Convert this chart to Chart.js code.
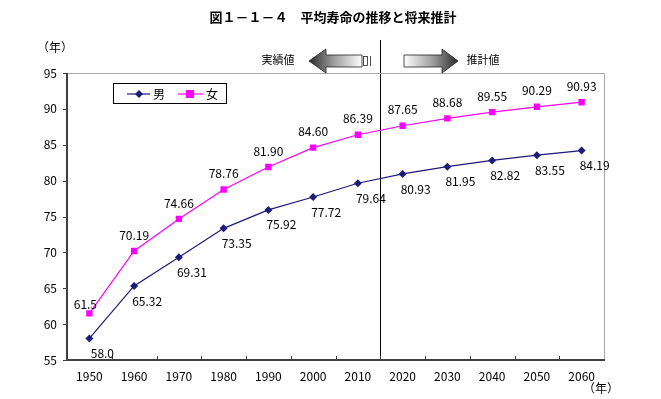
<!DOCTYPE html>
<html lang="ja">
<head>
<meta charset="utf-8">
<script src="https://cdn.jsdelivr.net/npm/chart.js@4/dist/chart.umd.min.js"></script>
<style>
  html, body { margin: 0; padding: 0; background: #fff; }
  #chart { display: block; }
</style>
</head>
<body>
<canvas id="chart" width="661" height="399"></canvas>
<script>
// data
const years = ['1950', '1960', '1970', '1980', '1990', '2000', '2010', '2020', '2030', '2040', '2050', '2060'];
const maleLabel = '男';
const femaleLabel = '女';
const maleLife = [58.0, 65.32, 69.31, 73.35, 75.92, 77.72, 79.64, 80.93, 81.95, 82.82, 83.55, 84.19];
const femaleLife = [61.5, 70.19, 74.66, 78.76, 81.90, 84.60, 86.39, 87.65, 88.68, 89.55, 90.29, 90.93];
const maleText = ['58.0', '65.32', '69.31', '73.35', '75.92', '77.72', '79.64', '80.93', '81.95', '82.82', '83.55', '84.19'];
const femaleText = ['61.5', '70.19', '74.66', '78.76', '81.90', '84.60', '86.39', '87.65', '88.68', '89.55', '90.29', '90.93'];
const yTicks = [55, 60, 65, 70, 75, 80, 85, 90, 95];
const lastActualIndex = 6; // 2010

const FONT = '"Noto Sans CJK JP", "Noto Sans", sans-serif';
const MALE_COLOR = '#1e1a78';
const FEMALE_COLOR = '#ff00ff';

function drawArrow(ctx, tail, tip, yc, bodyH, headH, headLen) {
    const dir = tip > tail ? 1 : -1;
    const base = tip - dir * headLen;
    ctx.beginPath();
    ctx.moveTo(tail, yc - bodyH);
    ctx.lineTo(base, yc - bodyH);
    ctx.lineTo(base, yc - headH);
    ctx.lineTo(tip, yc);
    ctx.lineTo(base, yc + headH);
    ctx.lineTo(base, yc + bodyH);
    ctx.lineTo(tail, yc + bodyH);
    ctx.closePath();
    const grad = ctx.createLinearGradient(tail, 0, tip, 0);
    grad.addColorStop(0, '#ffffff');
    grad.addColorStop(0.55, '#9a9a9a');
    grad.addColorStop(1, '#2a2a2a');
    ctx.fillStyle = grad;
    ctx.fill();
    ctx.strokeStyle = '#222';
    ctx.lineWidth = 0.8;
    ctx.stroke();
}

const decorations = {
    id: 'decorations',
    beforeDatasetsDraw(chart) {
        const { ctx, chartArea: a, scales: { x, y } } = chart;
        ctx.save();
        // divider between actual and projection
        const xd = Math.round((x.getPixelForValue(lastActualIndex) + x.getPixelForValue(lastActualIndex + 1)) / 2) + 0.5;
        ctx.strokeStyle = '#000';
        ctx.lineWidth = 1;
        ctx.beginPath();
        ctx.moveTo(xd, 40);
        ctx.lineTo(xd, a.bottom);
        ctx.stroke();
        ctx.restore();
    },
    afterDatasetsDraw(chart) {
        const { ctx, chartArea: a, scales: { x, y } } = chart;
        ctx.save();

        // plot area frame
        ctx.strokeStyle = '#a6a6a6';
        ctx.lineWidth = 1;
        ctx.beginPath();
        ctx.moveTo(a.left, a.top + 0.5);
        ctx.lineTo(a.right + 0.5, a.top + 0.5);
        ctx.lineTo(a.right + 0.5, a.bottom);
        ctx.stroke();
        ctx.strokeStyle = '#404040';
        ctx.lineWidth = 2;
        ctx.beginPath();
        ctx.moveTo(a.left, a.top);
        ctx.lineTo(a.left, a.bottom);
        ctx.lineTo(a.right + 1, a.bottom);
        ctx.stroke();

        // y ticks (outside)
        ctx.lineWidth = 1;
        yTicks.forEach(v => {
            const py = Math.round(y.getPixelForValue(v)) + 0.5;
            ctx.beginPath();
            ctx.moveTo(a.left - 4, py);
            ctx.lineTo(a.left, py);
            ctx.stroke();
        });
        // x ticks (inside, at category boundaries)
        for (let i = 1; i < years.length; i++) {
            const px = Math.round((x.getPixelForValue(i - 1) + x.getPixelForValue(i)) / 2) + 0.5;
            ctx.beginPath();
            ctx.moveTo(px, a.bottom);
            ctx.lineTo(px, a.bottom - 4);
            ctx.stroke();
        }

        // data labels
        ctx.font = '12px ' + FONT;
        ctx.fillStyle = '#000';
        ctx.textAlign = 'center';
        ctx.textBaseline = 'middle';
        femaleLife.forEach((v, i) => {
            const px = x.getPixelForValue(i);
            const py = y.getPixelForValue(v);
            if (i === 0) ctx.fillText(femaleText[i], px - 4, py - 9);
            else ctx.fillText(femaleText[i], px, py - 16);
        });
        maleLife.forEach((v, i) => {
            const px = x.getPixelForValue(i);
            const py = y.getPixelForValue(v);
            ctx.fillText(maleText[i], px + 13, py + 15);
        });

        // title
        ctx.font = 'bold 13px ' + FONT;
        ctx.fillText('図１－１－４　平均寿命の推移と将来推計', 333, 17);

        // unit labels
        ctx.font = '12px ' + FONT;
        ctx.fillText('（年）', 55, 47);
        ctx.fillText('（年）', 601, 388);

        // actual / projection arrows
        ctx.font = '11px ' + FONT;
        ctx.fillText('実績値', 278, 60);
        ctx.fillText('推計値', 483, 60);
        drawArrow(ctx, 362, 309, 61, 6, 12, 17);
        ctx.strokeStyle = '#222';
        ctx.lineWidth = 0.8;
        ctx.strokeRect(363.5, 56.5, 4, 9);
        ctx.beginPath();
        ctx.moveTo(370.5, 56);
        ctx.lineTo(370.5, 66);
        ctx.stroke();
        drawArrow(ctx, 404, 458, 61, 6, 12, 16);

        // legend
        ctx.strokeStyle = '#000';
        ctx.lineWidth = 1;
        ctx.strokeRect(113.5, 83.5, 113, 20);
        const ly = 94;
        ctx.lineWidth = 1.2;
        ctx.strokeStyle = MALE_COLOR;
        ctx.beginPath();
        ctx.moveTo(127, ly);
        ctx.lineTo(150, ly);
        ctx.stroke();
        ctx.fillStyle = MALE_COLOR;
        ctx.beginPath();
        ctx.moveTo(139, ly - 4);
        ctx.lineTo(143, ly);
        ctx.lineTo(139, ly + 4);
        ctx.lineTo(135, ly);
        ctx.closePath();
        ctx.fill();
        ctx.strokeStyle = FEMALE_COLOR;
        ctx.beginPath();
        ctx.moveTo(178, ly);
        ctx.lineTo(203, ly);
        ctx.stroke();
        ctx.fillStyle = FEMALE_COLOR;
        ctx.fillRect(186, ly - 4, 8, 8);
        ctx.fillStyle = '#000';
        ctx.font = '12px ' + FONT;
        ctx.fillText(maleLabel, 159, ly);
        ctx.fillText(femaleLabel, 212, ly);

        ctx.restore();
    }
};

new Chart(document.getElementById('chart'), {
    type: 'line',
    data: {
        labels: years,
        datasets: [
            {
                label: maleLabel,
                data: maleLife,
                borderColor: MALE_COLOR,
                backgroundColor: MALE_COLOR,
                borderWidth: 1.2,
                pointStyle: 'rectRot',
                pointRadius: 4,
                pointBorderWidth: 0,
                tension: 0
            },
            {
                label: femaleLabel,
                data: femaleLife,
                borderColor: FEMALE_COLOR,
                backgroundColor: FEMALE_COLOR,
                borderWidth: 1.2,
                pointStyle: 'rect',
                pointRadius: 4.5,
                pointBorderWidth: 0,
                tension: 0
            }
        ]
    },
    options: {
        responsive: false,
        animation: false,
        devicePixelRatio: 1,
        layout: { padding: { top: 73, right: 57, bottom: 11, left: 0 } },
        plugins: {
            legend: { display: false },
            tooltip: { enabled: false }
        },
        scales: {
            x: {
                type: 'category',
                offset: true,
                grid: { display: false, drawTicks: false },
                border: { display: false },
                ticks: { color: '#000', font: { family: FONT, size: 12 }, padding: 9, maxRotation: 0, autoSkip: false },
                afterFit: s => { s.height = 28; }
            },
            y: {
                min: 55,
                max: 95,
                grid: { display: false, drawTicks: false },
                border: { display: false },
                ticks: { stepSize: 5, color: '#000', font: { family: FONT, size: 12 }, padding: 10 },
                afterFit: s => { s.width = 67; }
            }
        }
    },
    plugins: [decorations]
});
</script>
</body>
</html>
